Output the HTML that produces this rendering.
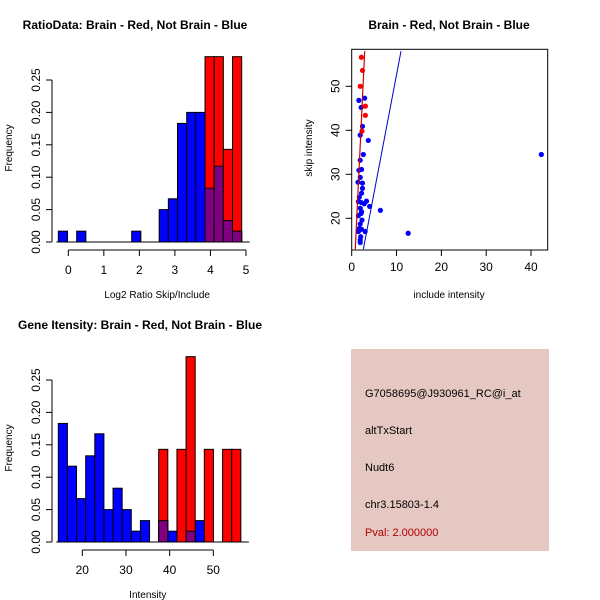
<!DOCTYPE html>
<html><head><meta charset="utf-8"><style>
html,body{margin:0;padding:0;background:#fff;}
svg{display:block;font-family:"Liberation Sans",sans-serif;}
</style></head><body>
<svg id="s" width="600" height="600" xmlns="http://www.w3.org/2000/svg">
<rect width="600" height="600" fill="#fff"/>
<text x="135" y="29" font-size="12" font-weight="bold" text-anchor="middle">RatioData: Brain - Red, Not Brain - Blue</text>
<text x="449" y="29" font-size="12" font-weight="bold" text-anchor="middle">Brain - Red, Not Brain - Blue</text>
<text x="140" y="329" font-size="12" font-weight="bold" text-anchor="middle">Gene Itensity: Brain - Red, Not Brain - Blue</text>
<g>
<rect x="351" y="349" width="198" height="202" fill="#e6c8c2"/>
<text x="365" y="397" font-size="11">G7058695@J930961_RC@i_at</text>
<text x="365" y="434" font-size="11">altTxStart</text>
<text x="365" y="471" font-size="11">Nudt6</text>
<text x="365" y="508" font-size="11">chr3.15803-1.4</text>
<text x="365" y="536" font-size="11" fill="#b00000">Pval: 2.000000</text>
</g>
</svg>
<script>
// ---- Ratio histogram data ----
const ratioBreakStart = -0.28, ratioBinWidth = 0.258;
const ratioBlue = [0.0167,0,0.0167,0,0,0,0,0,0.0167,0,0,0.05,0.0667,0.183,0.2,0.2,0.083,0.117,0.033,0.0167];
const ratioRedStartBin = 16;
const ratioRed = [0.286,0.286,0.143,0.286];
const ratioXTicks = [0,1,2,3,4,5];
const freqTicks = [0,0.05,0.10,0.15,0.20,0.25];
const freqTickLabels = ["0.00","0.05","0.10","0.15","0.20","0.25"];
// ---- Intensity histogram data ----
const intBreakStart = 14.5, intBinWidth = 2.09;
const intBlue = [0.183,0.117,0.067,0.133,0.167,0.05,0.083,0.05,0.0167,0.033,0,0.033,0.0167,0,0.0167,0.033];
const intRedStartBin = 11;
const intRed = [0.143,0,0.143,0.286,0,0.143,0,0.143,0.143];
const intXTicks = [20,30,40,50];
// ---- Scatter data ----
const redX = [2.16,2.4,1.9,3.05,3.05,2.3];
const redY = [56.6,53.6,50.0,45.5,43.4,39.8];
const blueX = [1.6,2.9,2.1,2.4,1.9,3.7,2.6,1.9,2.2,1.6,1.9,1.4,2.4,2.4,2.2,1.7,2.1,1.5,3.3,2.8,4.0,6.4,1.9,2.2,1.5,2.1,2.3,1.9,1.7,2.2,3.0,1.5,12.6,2.0,1.9,1.9,42.3];
const blueY = [46.8,47.3,45.2,40.9,38.9,37.7,34.5,33.2,31.1,30.9,29.3,28.2,28.0,26.8,25.7,24.8,23.6,23.8,23.9,23.3,22.7,21.8,22.3,21.5,20.6,21.1,19.6,18.7,17.7,17.5,17.0,17.0,16.6,15.8,15.1,14.5,34.5];
const redLine = [[0.8,13],[2.9,58]];
const blueLine = [[2.6,13],[11,58]];
const scatXTicks = [0,10,20,30,40];
const scatYTicks = [20,30,40,50];

const NS="http://www.w3.org/2000/svg", svg=document.getElementById('s');
function el(t,a,p){const e=document.createElementNS(NS,t);for(const k in a)e.setAttribute(k,a[k]);(p||svg).appendChild(e);return e;}
function txt(x,y,s,a,p){const e=el('text',Object.assign({x:x,y:y,'font-size':12},a||{}),p);e.textContent=s;return e;}

function freqAxis(g,ax,y,labY){
  el('line',{x1:ax,x2:ax,y1:y(0),y2:y(0.25),stroke:'#000'},g);
  freqTicks.forEach((v,i)=>{el('line',{x1:ax-6,x2:ax,y1:y(v),y2:y(v),stroke:'#000'},g);
    txt(ax-12,y(v),freqTickLabels[i],{transform:`rotate(-90 ${ax-12} ${y(v)})`,'text-anchor':'middle'},g);});
  txt(12,labY,'Frequency',{transform:`rotate(-90 12 ${labY})`,'text-anchor':'middle','font-size':10},g);
}
function hist(name,X,y,start,w,blue,red,redStart,ticks,axisY,xlabel,xlabY,ax,labY){
  const g=el('g',{});
  
  
  blue.forEach((v,k)=>{ if(v<=0) return;
    const b=el('rect',{x:X(start+k*w),y:y(v),width:X(start+(k+1)*w)-X(start+k*w),height:y(0)-y(v),fill:'#0000ff',stroke:'#000','stroke-width':1},g);
    
    });
  red.forEach((v,j)=>{ if(v<=0) return; const k=redStart+j; const bv=blue[k]||0;
    const x0=X(start+k*w),x1=X(start+(k+1)*w);
    const r=el('rect',{x:x0,y:y(v),width:x1-x0,height:y(0)-y(v),fill:'#ff0000',stroke:'#000','stroke-width':1},g);
    
    
    if(bv>0){const m=Math.min(bv,v);
      const o=el('rect',{x:x0,y:y(m),width:x1-x0,height:y(0)-y(m),fill:'#800080',stroke:'#000','stroke-width':1},g);
      
      }
  });
  const nb=Math.max(blue.length,redStart+red.length);
  el('line',{x1:X(start)-2,x2:X(start+nb*w)+8,y1:y(0),y2:y(0),stroke:'#000'},g);
  freqAxis(g,ax,y,labY);
  el('line',{x1:X(ticks[0]),x2:X(ticks[ticks.length-1]),y1:axisY,y2:axisY,stroke:'#000'},g);
  ticks.forEach(t=>{el('line',{x1:X(t),x2:X(t),y1:axisY,y2:axisY+6,stroke:'#000'},g);txt(X(t),axisY+24,String(t),{'text-anchor':'middle'},g);});
  txt(X((ticks[0]+ticks[ticks.length-1])/2),xlabY,xlabel,{'text-anchor':'middle','font-size':10},g);
}
{const X=v=>68.3+v*35.53, y=v=>242-v*648;
 hist('ratio-histogram',X,y,ratioBreakStart,ratioBinWidth,ratioBlue,ratioRed,ratioRedStartBin,ratioXTicks,250,'Log2 Ratio Skip/Include',298,52,148);}
{const X=v=>82.3+(v-20)*4.367, y=v=>542-v*648;
 hist('intensity-histogram',X,y,intBreakStart,intBinWidth,intBlue,intRed,intRedStartBin,intXTicks,550,'Intensity',598,52,448);}
// Scatter
{
 const L=351.7,R=547.7,T=49.3,B=250;
 const X=v=>L+v*4.483, Y=v=>218.3-(v-20)*4.4;
 const g=el('g',{});
 
 
 el('clipPath',{id:'clp'},g).appendChild((()=>{const r=document.createElementNS(NS,'rect');r.setAttribute('x',L);r.setAttribute('y',T);r.setAttribute('width',R-L);r.setAttribute('height',B-T);return r;})());
 const c=el('g',{'clip-path':'url(#clp)'},g);
 blueX.forEach((x,i)=>{const p=el('circle',{cx:X(x),cy:Y(blueY[i]),r:2.6,fill:'#0000ff'},c);
   
   });
 redX.forEach((x,i)=>{const p=el('circle',{cx:X(x),cy:Y(redY[i]),r:2.6,fill:'#ff0000'},c);
   
   });
 const bl=el('line',{x1:X(blueLine[0][0]),y1:Y(blueLine[0][1]),x2:X(blueLine[1][0]),y2:Y(blueLine[1][1]),stroke:'#0000cc'},c);
 
 
 const rl=el('line',{x1:X(redLine[0][0]),y1:Y(redLine[0][1]),x2:X(redLine[1][0]),y2:Y(redLine[1][1]),stroke:'#cc0000','stroke-width':1.2},c);
 
 
 el('rect',{x:L,y:T,width:R-L,height:B-T,fill:'none',stroke:'#000'},g);
 scatXTicks.forEach(t=>{el('line',{x1:X(t),x2:X(t),y1:B,y2:B+6,stroke:'#000'},g);txt(X(t),B+21,String(t),{'text-anchor':'middle'},g);});
 scatYTicks.forEach(t=>{el('line',{x1:L-6,x2:L,y1:Y(t),y2:Y(t),stroke:'#000'},g);txt(L-12,Y(t),String(t),{transform:`rotate(-90 ${L-12} ${Y(t)})`,'text-anchor':'middle'},g);});
 txt(449,298,'include intensity',{'text-anchor':'middle','font-size':10},g);
 txt(312,148,'skip intensity',{transform:'rotate(-90 312 148)','text-anchor':'middle','font-size':10},g);
}
</script>
</body></html>
